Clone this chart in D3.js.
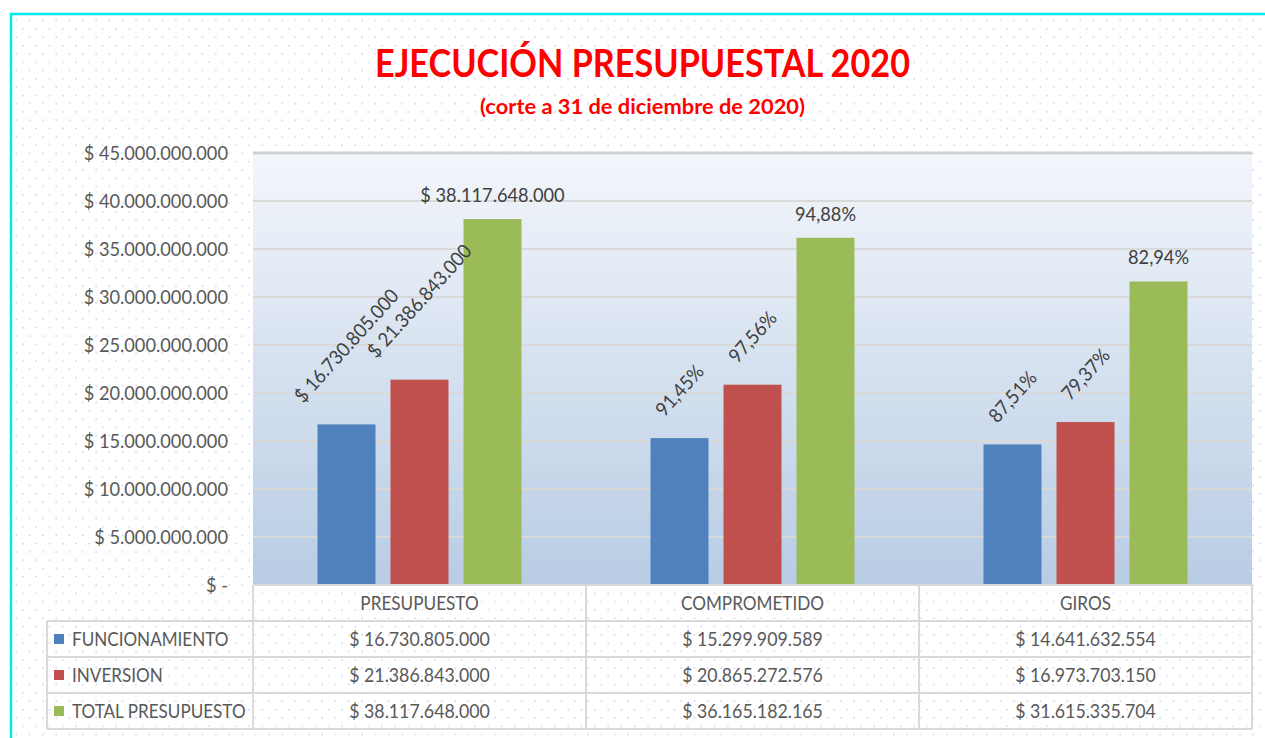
<!DOCTYPE html>
<html>
<head>
<meta charset="utf-8">
<script src="https://cdn.jsdelivr.net/npm/d3@7/dist/d3.min.js"></script>
<style>
    html, body { margin: 0; padding: 0; background: #ffffff; }
    svg { display: block; }
    text { font-family: "Lato", "Liberation Sans", sans-serif; }
</style>
</head>
<body>
<div class="budgetChart"></div>
<script>
// chart data
let categories = ['PRESUPUESTO', 'COMPROMETIDO', 'GIROS'];
let seriesNames = ['FUNCIONAMIENTO', 'INVERSION', 'TOTAL PRESUPUESTO'];
let funcionamiento = [16730805000, 15299909589, 14641632554];
let inversion = [21386843000, 20865272576, 16973703150];
let totalPresupuesto = [38117648000, 36165182165, 31615335704];
let yTicks = [0, 5e9, 10e9, 15e9, 20e9, 25e9, 30e9, 35e9, 40e9, 45e9];

let seriesValues = [funcionamiento, inversion, totalPresupuesto];
let seriesColors = ['#4f81bd', '#c0504d', '#9bbb59'];

let width = 1265, height = 738;
let plot = {left: 253, right: 1252, top: 153, bottom: 585};
let rowH = 36;

let locale = d3.formatLocale({decimal: ',', thousands: '.', grouping: [3], currency: ['$ ', '']});
let money = function(v) { return v === 0 ? '$ -' : '$ ' + locale.format(',.0f')(v); };
let pct = locale.format('.2%');

// place a text horizontally squeezed (the original uses a narrow font)
function squeeze(sel, x, y, k, rot) {
    sel.attr('x', 0).attr('y', 0)
        .attr('transform', 'translate(' + x + ',' + y + ')' + (rot ? ' rotate(' + rot + ')' : '') + ' scale(' + k + ',1)');
    return sel;
}

let svg = d3.select('.budgetChart').append('svg')
    .attr('width', width)
    .attr('height', height);

let defs = svg.append('defs');

// dotted background
let pattern = defs.append('pattern')
    .attr('id', 'dots')
    .attr('patternUnits', 'userSpaceOnUse')
    .attr('width', 13.3)
    .attr('height', 16.6);
pattern.append('circle').attr('cx', 3).attr('cy', 4).attr('r', 0.9).attr('fill', '#c5d2ea');
pattern.append('circle').attr('cx', 9.65).attr('cy', 12.3).attr('r', 0.9).attr('fill', '#c5d2ea');

let grad = defs.append('linearGradient')
    .attr('id', 'plotGrad')
    .attr('x1', 0).attr('y1', 0).attr('x2', 0).attr('y2', 1);
grad.append('stop').attr('offset', '0%').attr('stop-color', '#f3f6fb');
grad.append('stop').attr('offset', '100%').attr('stop-color', '#b8cce4');

svg.append('rect')
    .attr('x', 11).attr('y', 14)
    .attr('width', width - 11).attr('height', height - 14)
    .attr('fill', 'url(#dots)');

// cyan frame
svg.append('path')
    .attr('d', 'M11,' + height + 'V14H' + width)
    .attr('fill', 'none')
    .attr('stroke', '#00eaf0')
    .attr('stroke-width', 2.5);

// titles
svg.append('text')
    .attr('x', 375).attr('y', 77)
    .attr('fill', '#ff0000')
    .attr('font-weight', 'bold')
    .attr('font-size', 39)
    .attr('textLength', 535)
    .attr('lengthAdjust', 'spacingAndGlyphs')
    .text('EJECUCIÓN PRESUPUESTAL 2020');

svg.append('text')
    .attr('x', 480).attr('y', 114)
    .attr('fill', '#ff0000')
    .attr('font-weight', 'bold')
    .attr('font-size', 21.5)
    .attr('textLength', 325)
    .attr('lengthAdjust', 'spacingAndGlyphs')
    .text('(corte a 31 de diciembre de 2020)');

// scales
let x0 = d3.scaleBand()
    .domain(categories)
    .range([plot.left, plot.right]);

let x1 = d3.scaleBand()
    .domain(seriesNames)
    .range([0, x0.bandwidth()])
    .paddingInner(15 / 73)
    .paddingOuter(0.8836);

let y = d3.scaleLinear()
    .domain([0, 45e9])
    .range([plot.bottom, plot.top]);

// plot background
svg.append('rect')
    .attr('x', plot.left).attr('y', plot.top)
    .attr('width', plot.right - plot.left).attr('height', plot.bottom - plot.top)
    .attr('fill', 'url(#plotGrad)');

// y axis with gridlines
let yAxisGroup = svg.append('g')
    .attr('transform', 'translate(' + plot.left + ',0)')
    .call(d3.axisLeft(y).tickValues(yTicks).tickFormat(money).tickSize(0).tickPadding(25));
yAxisGroup.select('.domain').remove();
yAxisGroup.selectAll('text')
    .attr('font-family', '"Lato", sans-serif')
    .attr('font-size', 19.5)
    .attr('fill', '#595959')
    .attr('dy', '0.35em')
    .each(function() { squeeze(d3.select(this), -25, 0, 0.935); });

svg.append('g').selectAll('line')
    .data(yTicks.filter(function(d) { return d > 0; }))
    .join('line')
    .attr('x1', plot.left).attr('x2', plot.right)
    .attr('y1', function(d) { return y(d); })
    .attr('y2', function(d) { return y(d); })
    .attr('stroke', function(d) { return d === 45e9 ? '#cfd0d3' : '#d9d9d9'; })
    .attr('stroke-width', function(d) { return d === 45e9 ? 3 : 2; });

// bars
let groups = svg.append('g').selectAll('g')
    .data(categories)
    .join('g')
    .attr('transform', function(d) { return 'translate(' + x0(d) + ',0)'; });

groups.selectAll('rect')
    .data(function(d, ci) { return seriesNames.map(function(s, si) { return {s: s, si: si, ci: ci, v: seriesValues[si][ci]}; }); })
    .join('rect')
    .attr('x', function(d) { return x1(d.s); })
    .attr('y', function(d) { return y(d.v); })
    .attr('width', x1.bandwidth())
    .attr('height', function(d) { return plot.bottom - y(d.v); })
    .attr('fill', function(d) { return seriesColors[d.si]; });

// data labels: amounts for presupuesto, percentage of presupuesto for the rest
let labelLayer = svg.append('g');
categories.forEach(function(cat, ci) {
    seriesNames.forEach(function(s, si) {
        let v = seriesValues[si][ci];
        let label = ci === 0 ? money(v) : pct(v / seriesValues[si][0]);
        let cx = x0(cat) + x1(s) + x1.bandwidth() / 2;
        let top = y(v);
        let t = labelLayer.append('text')
            .attr('font-size', 19.5)
            .attr('fill', '#404040')
            .attr('text-anchor', 'middle')
            .text(label);
        if (si === 2) {
            squeeze(t, cx, top - 17, 0.935);
        } else {
            let len = t.node().getComputedTextLength() * 0.935;
            let ang = 48 * Math.PI / 180;
            let half = (len * Math.sin(ang) + 15 * Math.cos(ang)) / 2;
            let cy = top - 20 - half;
            t.attr('dy', '0.35em');
            squeeze(t, cx, cy, 0.935, -48);
        }
    });
});

// data table under the plot
let table = svg.append('g');
let lineColor = '#d9d9d9';
let tableLeft = 47;
let rowTop = function(i) { return plot.bottom + rowH * (i + 1); };

// axis line / header top
table.append('line')
    .attr('x1', plot.left).attr('x2', plot.right)
    .attr('y1', plot.bottom).attr('y2', plot.bottom)
    .attr('stroke', lineColor).attr('stroke-width', 2);

// horizontal row lines
table.selectAll('.rowLine')
    .data([0, 1, 2, 3])
    .join('line')
    .attr('class', 'rowLine')
    .attr('x1', tableLeft).attr('x2', plot.right)
    .attr('y1', function(d) { return rowTop(d); })
    .attr('y2', function(d) { return rowTop(d); })
    .attr('stroke', lineColor).attr('stroke-width', 2);

// vertical column lines
let colEdges = categories.map(function(c) { return x0(c); }).concat([plot.right]);
table.selectAll('.colLine')
    .data(colEdges)
    .join('line')
    .attr('class', 'colLine')
    .attr('x1', function(d) { return d; }).attr('x2', function(d) { return d; })
    .attr('y1', plot.bottom).attr('y2', rowTop(3))
    .attr('stroke', lineColor).attr('stroke-width', 2);
table.append('line')
    .attr('x1', tableLeft).attr('x2', tableLeft)
    .attr('y1', rowTop(0)).attr('y2', rowTop(3))
    .attr('stroke', lineColor).attr('stroke-width', 2);

// header labels
categories.forEach(function(c) {
    let t = table.append('text')
        .attr('dy', '0.35em')
        .attr('text-anchor', 'middle')
        .attr('font-size', 19.5)
        .attr('fill', '#595959')
        .text(c);
    squeeze(t, x0(c) + x0.bandwidth() / 2, plot.bottom + rowH / 2, 0.88);
});

// series rows
seriesNames.forEach(function(s, si) {
    let cy = rowTop(si) + rowH / 2;
    table.append('rect')
        .attr('x', 54).attr('y', cy - 5)
        .attr('width', 10).attr('height', 10)
        .attr('fill', seriesColors[si]);
    let lbl = table.append('text')
        .attr('dy', '0.35em')
        .attr('font-size', 19.5)
        .attr('fill', '#595959')
        .text(s);
    squeeze(lbl, 72, cy, 0.876);
    categories.forEach(function(c, ci) {
        let t = table.append('text')
            .attr('dy', '0.35em')
            .attr('text-anchor', 'middle')
            .attr('font-size', 19.5)
            .attr('fill', '#595959')
            .text(money(seriesValues[si][ci]));
        squeeze(t, x0(c) + x0.bandwidth() / 2, cy, 0.91);
    });
});
</script>
</body>
</html>
